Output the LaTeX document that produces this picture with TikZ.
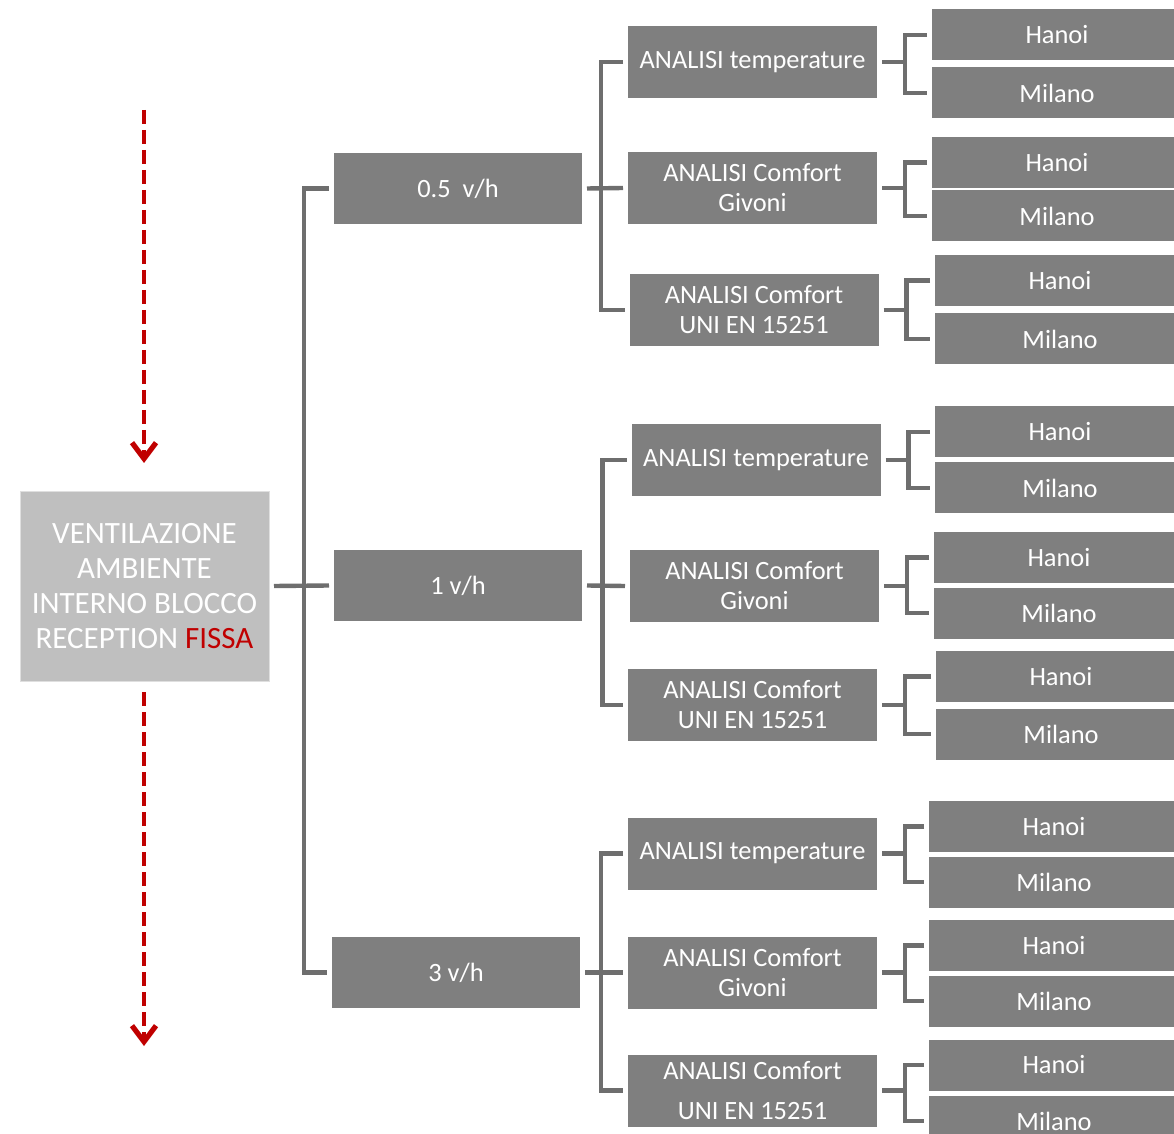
\documentclass[tikz,border=0pt]{standalone}
\usepackage{fontspec}
\setmainfont{Carlito}
\usetikzlibrary{arrows.meta}

\definecolor{boxgray}{RGB}{127,127,127}
\definecolor{lightbox}{RGB}{191,191,191}
\definecolor{linegray}{RGB}{110,110,110}
\definecolor{darkred}{RGB}{192,0,0}

\begin{document}
\begin{tikzpicture}[x=0.5pt, y=-0.5pt,
    rootbox/.style={fill=lightbox, draw=gray!25, text=white, align=center,
        minimum width=124.5pt, minimum height=95pt, outer sep=2.5pt,
        font=\fontsize{15.5}{17.5}\selectfont},
    ratebox/.style={fill=boxgray, text=white, minimum width=124pt,
        minimum height=35.5pt, outer sep=2.5pt,
        font=\fontsize{13.2}{15}\selectfont},
    studybox/.style={ratebox, align=center, minimum width=124.5pt, minimum height=36pt},
    citybox/.style={ratebox, minimum width=125pt, minimum height=25.5pt},
    link/.style={draw=linegray, line width=2.2pt},
    flow/.style={draw=darkred, line width=2pt, dash pattern=on 7pt off 3pt,
        -{Straight Barb[length=8pt, width=12pt, line width=2.6pt]}}]

    \useasboundingbox (0,0) rectangle (1174,1134);

    % vertical arrows
    \coordinate (up1) at (144,110);
    \coordinate (up2) at (144,463);
    \coordinate (dn1) at (144,692);
    \coordinate (dn2) at (144,1046);
    \draw[flow] (up1) -- (up2);
    \draw[flow] (dn1) -- (dn2);

    % root
    \node[rootbox] (vent) at (144.5,586) {VENTILAZIONE\\AMBIENTE\\INTERNO BLOCCO\\RECEPTION \textcolor{darkred}{FISSA}};

    % air change rates
    \node[ratebox] (r05) at (458,188.5) {0.5~~v/h};
    \node[ratebox] (r1) at (458,585.5) {1 v/h};
    \node[ratebox] (r3) at (456,972.5) {3 v/h};

    % analyses
    \node[studybox] (t05) at (752.5,62) {ANALISI temperature};
    \node[studybox] (g05) at (752.5,188) {ANALISI Comfort\\Givoni};
    \node[studybox] (u05) at (754,310) {ANALISI Comfort\\UNI EN 15251};

    \node[studybox] (t1) at (756,460) {ANALISI temperature};
    \node[studybox] (g1) at (754.5,586) {ANALISI Comfort\\Givoni};
    \node[studybox] (u1) at (752.5,705) {ANALISI Comfort\\UNI EN 15251};

    \node[studybox] (t3) at (752.5,853.5) {ANALISI temperature};
    \node[studybox] (g3) at (752.5,972.5) {ANALISI Comfort\\Givoni};
    \node[studybox, font=\fontsize{13.2}{20}\selectfont] (u3) at (752.5,1090.5) {ANALISI Comfort\\UNI EN 15251};

    % cities
    \node[citybox] (t05h) at (1057,35) {Hanoi};
    \node[citybox] (t05m) at (1057,93) {Milano};
    \node[citybox] (g05h) at (1057,162.5) {Hanoi};
    \node[citybox] (g05m) at (1057,216) {Milano};
    \node[citybox] (u05h) at (1060,280.5) {Hanoi};
    \node[citybox] (u05m) at (1060,339) {Milano};

    \node[citybox] (t1h) at (1060,432) {Hanoi};
    \node[citybox] (t1m) at (1060,488) {Milano};
    \node[citybox] (g1h) at (1059,557.5) {Hanoi};
    \node[citybox] (g1m) at (1059,613) {Milano};
    \node[citybox] (u1h) at (1061,676.5) {Hanoi};
    \node[citybox] (u1m) at (1061,734) {Milano};

    \node[citybox] (t3h) at (1054,826.5) {Hanoi};
    \node[citybox] (t3m) at (1054,882) {Milano};
    \node[citybox] (g3h) at (1054,945.5) {Hanoi};
    \node[citybox] (g3m) at (1054,1001) {Milano};
    \node[citybox] (u3h) at (1054,1065) {Hanoi};
    \node[citybox] (u3m) at (1054,1121) {Milano};

    % root -> rates
    \draw[link] (vent.east) -- (r1.west);
    \draw[link] (r05.west) -- ++(-25,0) |- (r3.west);

    % rates -> analyses
    \draw[link] (r05.east) -- (g05.west);
    \draw[link] (t05.west) -- ++(-22,0) |- (u05.west);
    \draw[link] (r1.east) -- (g1.west);
    \draw[link] (t1.west) -- ++(-24,0) |- (u1.west);
    \draw[link] (r3.east) -- (g3.west);
    \draw[link] (t3.west) -- ++(-22,0) |- (u3.west);

    % analyses -> cities
    \draw[link] (t05.east) -- ++(23,0) coordinate (t05j);
    \draw[link] (t05h.west) -| (t05j) |- (t05m.west);
    \draw[link] (g05.east) -- ++(23,0) coordinate (g05j);
    \draw[link] (g05h.west) -| (g05j) |- (g05m.west);
    \draw[link] (u05.east) -- ++(23,0) coordinate (u05j);
    \draw[link] (u05h.west) -| (u05j) |- (u05m.west);

    \draw[link] (t1.east) -- ++(23,0) coordinate (t1j);
    \draw[link] (t1h.west) -| (t1j) |- (t1m.west);
    \draw[link] (g1.east) -- ++(23,0) coordinate (g1j);
    \draw[link] (g1h.west) -| (g1j) |- (g1m.west);
    \draw[link] (u1.east) -- ++(23,0) coordinate (u1j);
    \draw[link] (u1h.west) -| (u1j) |- (u1m.west);

    \draw[link] (t3.east) -- ++(23,0) coordinate (t3j);
    \draw[link] (t3h.west) -| (t3j) |- (t3m.west);
    \draw[link] (g3.east) -- ++(23,0) coordinate (g3j);
    \draw[link] (g3h.west) -| (g3j) |- (g3m.west);
    \draw[link] (u3.east) -- ++(23,0) coordinate (u3j);
    \draw[link] (u3h.west) -| (u3j) |- (u3m.west);

\end{tikzpicture}
\end{document}
